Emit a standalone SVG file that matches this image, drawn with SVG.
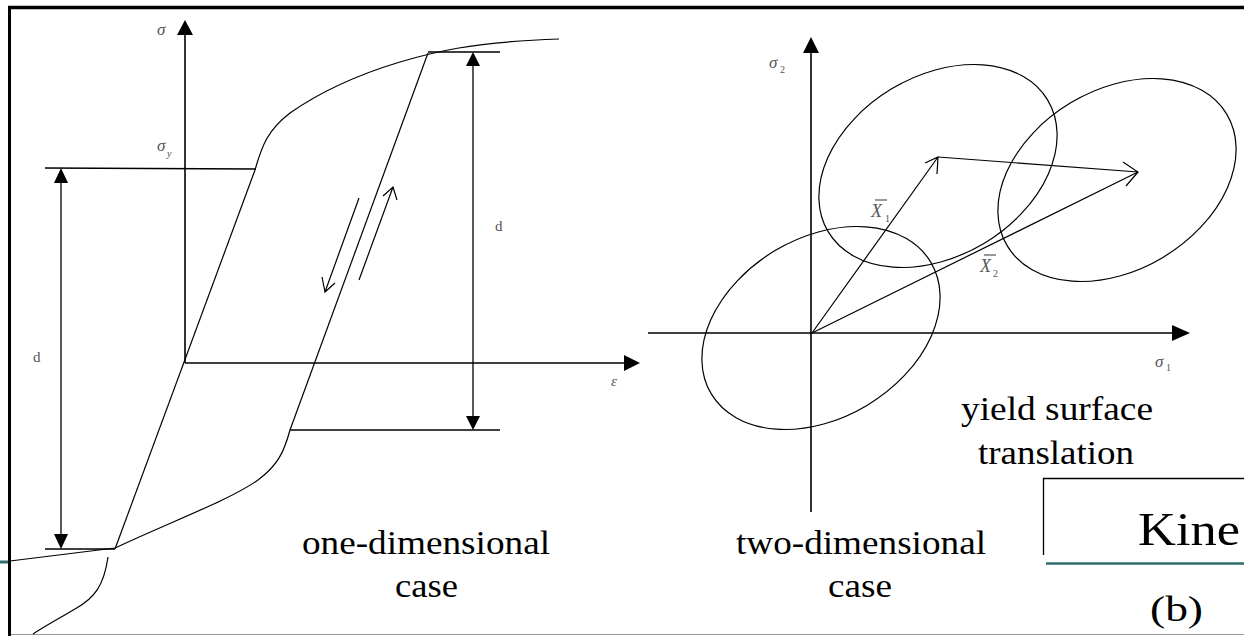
<svg xmlns="http://www.w3.org/2000/svg" width="1244" height="636" viewBox="0 0 1244 636">
<style>
.ln{stroke:#000;stroke-width:1.3;fill:none}
.ax{stroke:#000;stroke-width:1.6;fill:none}
.cv{stroke:#000;stroke-width:1.2;fill:none}
.hd{fill:#000;stroke:none}
.sym{font-family:"Liberation Serif","Times New Roman",serif;font-style:italic;fill:#555}
.sm{font-family:"Liberation Serif","Times New Roman",serif;fill:#555}
.cap{font-family:"Liberation Serif","Times New Roman",serif;fill:#000}
</style>
<rect width="1244" height="636" fill="#fff"/>
<g id="frame">
<line x1="8" y1="7.5" x2="1244" y2="7.5" stroke="#000" stroke-width="3.5"/>
<line x1="9.5" y1="6" x2="9.5" y2="636" stroke="#000" stroke-width="3"/>
<line x1="11" y1="634.5" x2="1244" y2="634.5" stroke="#999" stroke-width="1"/>
<line x1="0" y1="562" x2="8" y2="562" stroke="#2f6b6b" stroke-width="3"/>
</g>
<g id="one-dim">
<line class="ax" x1="185" y1="363" x2="185" y2="33"/>
<polygon class="hd" points="185,20 177,35 193,35"/>
<line class="ax" x1="185" y1="363" x2="626" y2="363"/>
<polygon class="hd" points="640,363 624,355 624,371"/>
<line class="ln" x1="45" y1="168" x2="256" y2="169"/>
<line class="ln" x1="61" y1="182" x2="61" y2="535"/>
<polygon class="hd" points="61,168 54,183 68,183"/>
<polygon class="hd" points="61,549 54,534 68,534"/>
<line class="ln" x1="45" y1="549" x2="115" y2="549"/>
<line class="ln" x1="473" y1="65" x2="473" y2="417"/>
<polygon class="hd" points="473,52 466,66 480,66"/>
<polygon class="hd" points="473,430 466,416 480,416"/>
<line class="ln" x1="428" y1="52" x2="500" y2="52"/>
<line class="ln" x1="290" y1="430" x2="500" y2="430"/>
<line class="cv" x1="115" y1="549" x2="255" y2="170"/>
<path class="cv" d="M255,170 C262,145 268,130 290,113 C320,92 360,74 400,62 C430,53 470,42 559,39"/>
<line class="cv" x1="428" y1="53" x2="290" y2="430"/>
<path class="cv" d="M290,430 C284,452 278,465 258,480 C230,500 170,522 115,548 L10,561"/>
<path class="cv" d="M108,557 C104,585 95,598 75,609 C60,618 45,626 33,634"/>
<path class="cv" d="M359,198 L325,292 M322,277 L325,292 L335,283"/>
<path class="cv" d="M359,280 L393,187 M383,196 L393,187 L397,200"/>
<text class="sym" x="157" y="35" font-size="17">σ</text>
<text class="sym" x="157" y="151" font-size="17">σ</text>
<text class="sym" x="167" y="157" font-size="10">y</text>
<text class="sm" x="33" y="362" font-size="15">d</text>
<text class="sm" x="495" y="231" font-size="15">d</text>
<text class="sym" x="611" y="386" font-size="15">ε</text>
<text class="cap" x="302" y="554" font-size="34" textLength="248" lengthAdjust="spacingAndGlyphs">one-dimensional</text>
<text class="cap" x="395" y="597" font-size="34" textLength="63" lengthAdjust="spacingAndGlyphs">case</text>
</g>
<g id="two-dim">
<line class="ax" x1="811" y1="512" x2="811" y2="52"/>
<polygon class="hd" points="811,37 803,53 819,53"/>
<line class="ax" x1="648" y1="333" x2="1173" y2="333"/>
<polygon class="hd" points="1190,333 1172,325 1172,341"/>
<ellipse class="cv" cx="821" cy="328" rx="128" ry="90" transform="rotate(-31 821 328)"/>
<ellipse class="cv" cx="938" cy="166" rx="128" ry="90" transform="rotate(-31 938 166)"/>
<ellipse class="cv" cx="1117" cy="180" rx="128" ry="90" transform="rotate(-31 1117 180)"/>
<path class="cv" d="M812,333 L938,157 M925,163 L938,157 L937,174"/>
<path class="cv" d="M812,333 L1138,172"/>
<path class="cv" d="M938,157 L1138,172 M1123,162 L1138,172 L1126,186"/>
<text class="sym" x="769" y="68" font-size="17">σ</text>
<text class="sm" x="780" y="73" font-size="10">2</text>
<text class="sym" x="1155" y="367" font-size="17">σ</text>
<text class="sm" x="1166" y="371" font-size="10">1</text>
<text class="sym" x="871" y="217" font-size="18">X</text>
<line x1="875" y1="200" x2="887" y2="200" stroke="#555" stroke-width="1.2"/>
<text class="sm" x="885" y="222" font-size="10">1</text>
<text class="sym" x="980" y="272" font-size="18">X</text>
<line x1="984" y1="255" x2="996" y2="255" stroke="#555" stroke-width="1.2"/>
<text class="sm" x="993" y="277" font-size="10">2</text>
<text class="cap" x="961" y="420" font-size="34" textLength="192" lengthAdjust="spacingAndGlyphs">yield surface</text>
<text class="cap" x="978" y="464" font-size="34" textLength="156" lengthAdjust="spacingAndGlyphs">translation</text>
<text class="cap" x="736" y="554" font-size="34" textLength="250" lengthAdjust="spacingAndGlyphs">two-dimensional</text>
<text class="cap" x="828" y="597" font-size="34" textLength="64" lengthAdjust="spacingAndGlyphs">case</text>
</g>
<g id="title-box">
<path d="M1043.5,555 V478.5 H1244" stroke="#000" stroke-width="1.3" fill="none"/>
<line x1="1046" y1="563.5" x2="1244" y2="563.5" stroke="#2f6b6b" stroke-width="2.5"/>
<text class="cap" x="1138" y="545" font-size="46" textLength="102" lengthAdjust="spacingAndGlyphs">Kine</text>
<text class="cap" x="1150" y="621" font-size="36" textLength="53" lengthAdjust="spacingAndGlyphs">(b)</text>
</g>
</svg>
